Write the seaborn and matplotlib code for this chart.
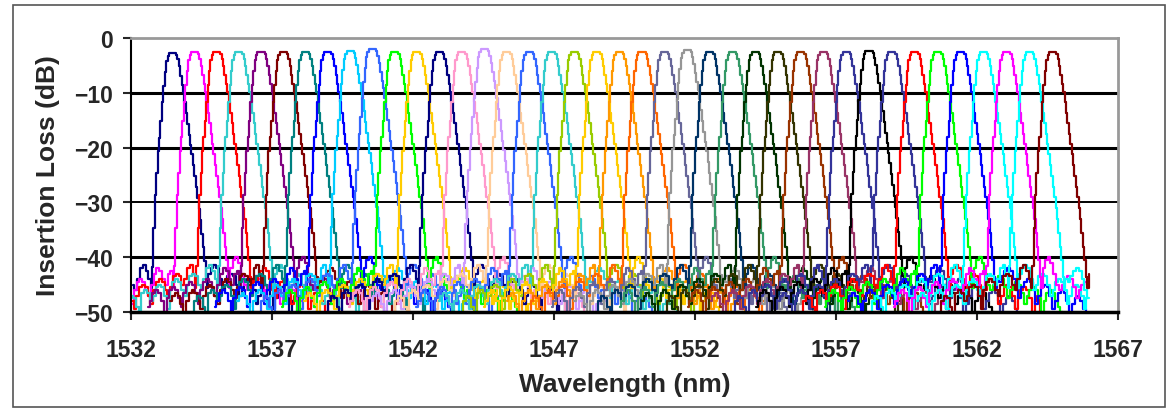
import numpy as np
import pandas as pd
import matplotlib
matplotlib.use("Agg")
import matplotlib.pyplot as plt
import seaborn as sns
from matplotlib.patches import Rectangle

# centres of the 40 channels (nm, 100 GHz grid)
centers = [1533.47, 1534.25, 1535.04, 1535.82, 1536.61, 1537.40, 1538.19, 1538.98,
           1539.77, 1540.56, 1541.35, 1542.14, 1542.94, 1543.73, 1544.53, 1545.32,
           1546.12, 1546.92, 1547.72, 1548.51, 1549.32, 1550.12, 1550.92, 1551.72,
           1552.52, 1553.33, 1554.13, 1554.94, 1555.75, 1556.55, 1557.36, 1558.17,
           1558.98, 1559.79, 1560.61, 1561.42, 1562.23, 1563.05, 1563.86, 1564.68]

# peak insertion loss of each channel (dB)
peaks = [-2.7, -2.6, -2.6, -2.6, -2.6, -2.6, -2.6, -2.6, -2.4, -2.0,
         -2.6, -2.6, -2.6, -2.6, -2.0, -2.6, -2.6, -2.6, -2.6, -2.6,
         -2.6, -2.6, -2.6, -2.2, -2.6, -2.6, -2.6, -2.6, -2.6, -2.6,
         -2.6, -2.4, -2.6, -2.6, -2.6, -2.6, -2.6, -2.6, -2.6, -2.6]

colors = ["#000080", "#FF00FF", "#FF0000", "#33CCCC", "#800080", "#800000", "#008080", "#0000FF",
          "#00CCFF", "#3366FF", "#00FF00", "#FFCC00", "#000080", "#FF99CC", "#CC99FF", "#FFCC99",
          "#3366FF", "#33CCCC", "#99CC00", "#FFCC00", "#FF9900", "#FF6600", "#666699", "#969696",
          "#003366", "#339966", "#003300", "#333300", "#993300", "#993366", "#333399", "#000000",
          "#333399", "#FF0000", "#00FF00", "#0000FF", "#00FFFF", "#FF00FF", "#00FFFF", "#800000"]

# passband shape, loss relative to the peak
lobe_left_off = [-0.75, -0.70, -0.65, -0.60, -0.55, -0.50, -0.45, -0.40,
                 -0.35, -0.30, -0.25, -0.20, -0.15, -0.10]
lobe_left_db = [-43, -39, -32, -26, -22, -18, -15.5, -12.5, -9, -6, -3.5, -1.5, -0.5, 0]
lobe_right_off = [0.0, 0.10, 0.15, 0.20, 0.25, 0.30, 0.35, 0.40, 0.45, 0.50, 0.55, 0.60,
                  0.65, 0.70, 0.75, 0.80, 0.85, 0.90, 0.95, 1.00, 1.05, 1.10, 1.15, 1.20, 1.25]
lobe_right_db = [0, 0, -0.4, -1.2, -2.5, -4.2, -5.8, -7.2, -9, -11, -13, -15, -16.8, -18.5,
                 -20.5, -22.5, -24.5, -26.5, -28.5, -30.5, -33, -35.5, -38, -41, -43]

# crosstalk floor (absolute dB), three patterns used in turn
floor_left_off = [-4.0, -3.9, -3.8, -3.7, -3.6, -3.5, -3.4, -3.3, -3.2, -3.1, -3.0,
                  -2.9, -2.8, -2.7, -2.6, -2.5, -2.4, -2.3, -2.2, -2.1, -2.0,
                  -1.9, -1.8, -1.7, -1.6, -1.5, -1.4, -1.3, -1.2, -1.1, -1.0, -0.9, -0.8]
floor_right_off = [1.3, 1.4, 1.5, 1.6, 1.7, 1.8, 1.9, 2.0, 2.1, 2.2, 2.3,
                   2.4, 2.5, 2.6, 2.7, 2.8, 2.9, 3.0, 3.1, 3.2, 3.3, 3.4,
                   3.5, 3.6, 3.7, 3.8, 3.9, 4.0, 4.1, 4.2, 4.3, 4.4, 4.5]
floor_left = [
    [-50, -48, -47, -47.5, -49, -50.5, -46.5, -46, -46.5, -48,
     -47, -45.5, -45, -45.5, -47, -49.5, -46, -44.5, -44, -44.5,
     -46, -47, -45, -43.5, -43, -43.5, -45, -46, -44, -42,
     -41.5, -42.5, -44],
    [-49, -48, -46.5, -46, -46.5, -48, -50, -47.5, -46, -45.5,
     -46, -47.5, -49, -46.5, -45, -44.5, -45, -46.5, -48.5, -46,
     -44.5, -44, -44.5, -46, -47, -45, -43, -42, -42.5, -44,
     -45, -43, -42.5],
    [-48, -47, -46.5, -47, -48.5, -50.5, -48, -46.5, -46, -46.5,
     -48, -49.5, -47, -45.5, -45, -45.5, -47, -48.5, -46, -44.5,
     -44, -44.5, -46, -47.5, -45.5, -43.5, -43, -43.5, -45, -44,
     -42, -41.5, -43],
]
floor_right = [
    [-43, -42, -41.5, -42, -44, -46, -45, -43.5, -43, -43.5,
     -45, -47, -46, -44.5, -44, -44.5, -46, -48.5, -47, -45.5,
     -45, -45.5, -47, -49.5, -47.5, -46, -45.5, -46, -47.5, -50,
     -48, -47, -51],
    [-42, -40.5, -40, -41, -43, -45, -46, -45, -44, -43.5,
     -44, -45.5, -47.5, -46, -45, -44.5, -45, -46.5, -48.5, -47,
     -46, -45.5, -46, -47.5, -50, -48, -46.5, -46, -46.5, -48,
     -49, -50, -51],
    [-44, -44.5, -43.5, -42.5, -42, -42.5, -44, -46, -47.5, -45.5,
     -44.5, -44, -44.5, -46, -48.5, -47, -45.5, -45, -45.5, -47,
     -49.5, -48, -46.5, -46, -46.5, -48, -50.5, -48.5, -47.5, -47,
     -48, -49.5, -51],
]

x_min, x_max = 1532.0, 1566.0

rows = []
for i, (c, p) in enumerate(zip(centers, peaks)):
    k = i % 3
    offs = floor_left_off + lobe_left_off + lobe_right_off + floor_right_off
    vals = (floor_left[k] + [p + v for v in lobe_left_db]
            + [p + v for v in lobe_right_db] + floor_right[k])
    for o, v in zip(offs, vals):
        w = c + o
        if x_min <= w <= x_max:
            rows.append((i, w, v))
df = pd.DataFrame(rows, columns=["channel", "wavelength", "loss"])

sns.set_style("white")
plt.rcParams["font.family"] = ["Liberation Sans", "DejaVu Sans"]
plt.rcParams["font.weight"] = "bold"

fig = plt.figure(figsize=(11.69, 4.10), dpi=100)
ax = fig.add_axes([131 / 1169, 1 - 313 / 410, (1118 - 131) / 1169, (313 - 39) / 410])

for yv, lw in [(-10, 2.2), (-20, 2.2), (-30, 1.4), (-40, 2.2)]:
    ax.axhline(yv, color="black", lw=lw, zorder=1)

sns.lineplot(data=df, x="wavelength", y="loss", hue="channel", palette=colors,
             estimator=None, legend=False, lw=1.6, drawstyle="steps-mid", ax=ax, zorder=2)

ax.set_xlim(1532, 1567)
ax.set_ylim(-50, 0)
ax.set_xticks(range(1532, 1568, 5))
ax.set_yticks(range(-50, 1, 10))
ax.tick_params(axis="both", direction="out", length=6, width=1.5, labelsize=16.5,
               bottom=True, left=True)
ax.tick_params(axis="x", pad=13)
ax.tick_params(axis="y", pad=7)
for lab in ax.get_xticklabels() + ax.get_yticklabels():
    lab.set_fontweight("bold")
ax.set_xlabel("Wavelength (nm)", fontsize=19, fontweight="bold", labelpad=8)
ax.set_ylabel("Insertion Loss (dB)", fontsize=19, fontweight="bold", labelpad=10)

ax.spines["left"].set_color("black")
ax.spines["left"].set_linewidth(1.5)
ax.spines["bottom"].set_color("black")
ax.spines["bottom"].set_linewidth(2.5)
for s in ["top", "right"]:
    ax.spines[s].set_visible(True)
    ax.spines[s].set_color("#999999")
    ax.spines[s].set_linewidth(2)

fig.patches.append(Rectangle((13 / 1169, 2 / 410), 1152 / 1169, 402 / 410,
                             transform=fig.transFigure, fill=False,
                             edgecolor="#555555", lw=1.2))

fig.savefig("out.png", dpi=100)
